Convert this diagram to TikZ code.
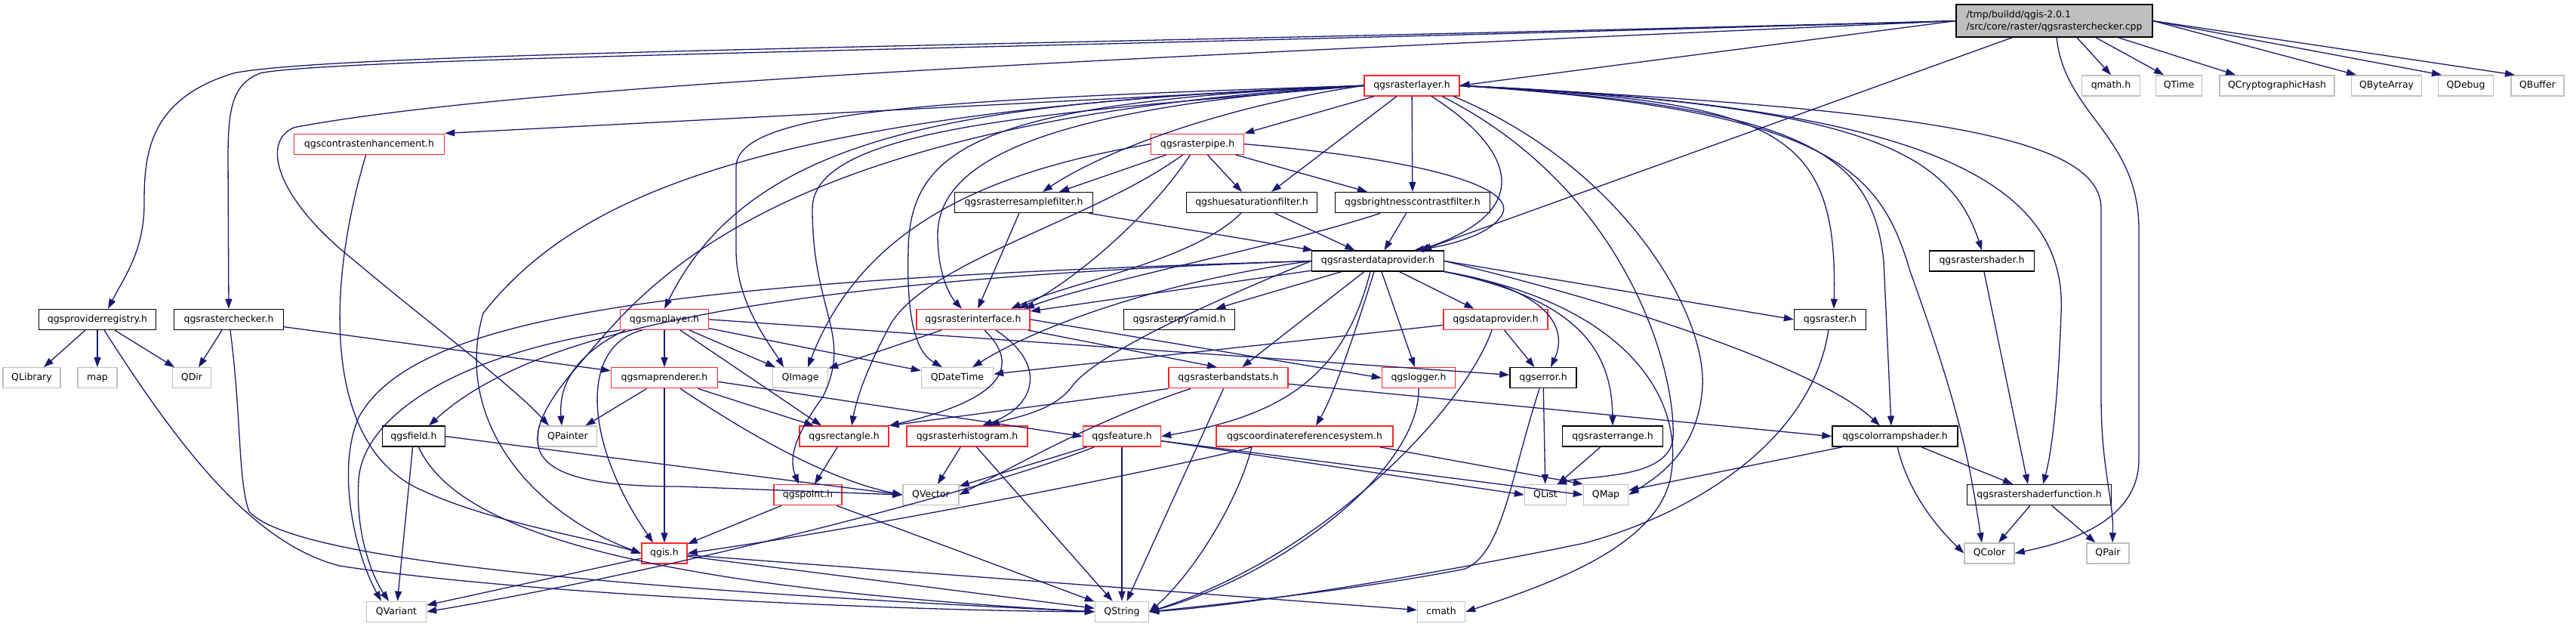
\documentclass[tikz,border=0pt]{standalone}
\usepackage{fontspec}
\setmainfont{DejaVu Sans}
\usepackage{tikz}
\usetikzlibrary{arrows.meta,positioning}
\definecolor{azulgraf}{RGB}{25,25,112}
\definecolor{rojonodo}{RGB}{255,40,40}
\definecolor{grisnodo}{RGB}{191,191,191}
\tikzset{
  cabecera/.style={rectangle, draw=black, line width=1.4pt, fill=white,
                   minimum height=27pt, inner xsep=4pt, inner ysep=0pt,
                   text height=9.5pt, text depth=2.6pt,
                   font=\fontsize{12.5}{15}\selectfont},
  cabroja/.style={cabecera, draw=rojonodo},
  sistema/.style={cabecera, draw=grisnodo},
  raiz/.style={rectangle, draw=black, line width=1.4pt, fill=grisnodo,
               minimum width=260pt, minimum height=43pt, align=left,
               font=\fontsize{12.5}{16}\selectfont},
  flecha/.style={-{Triangle[length=13pt,width=9pt]}, line width=1.3pt, draw=azulgraf}
}

\begin{document}
\begin{tikzpicture}[x=1pt, y=-1.382pt]
  \useasboundingbox (0,0) rectangle (3412,600);
  % fila 0-1
  \node[raiz] (raiz) at (2721,20) {/tmp/buildd/qgis-2.0.1\\/src/core/raster/qgsrasterchecker.cpp};
  \node[cabroja, minimum width=126] (rl) at (1870,82) {qgsrasterlayer.h};
  \node[sistema, minimum width=77] (qmath) at (2796,82) {qmath.h};
  \node[sistema, minimum width=61] (qtime) at (2886,82) {QTime};
  \node[sistema, minimum width=152] (qcrypt) at (3016,82) {QCryptographicHash};
  \node[sistema, minimum width=93] (qbyte) at (3161,82) {QByteArray};
  \node[sistema, minimum width=73] (qdebug) at (3266,82) {QDebug};
  \node[sistema, minimum width=70] (qbuffer) at (3361,82) {QBuffer};
  % fila 2-3
  \node[cabroja, minimum width=199] (contr) at (489,138) {qgscontrastenhancement.h};
  \node[cabroja, minimum width=123] (pipe) at (1586,138) {qgsrasterpipe.h};
  \node[cabecera, minimum width=183] (resample) at (1356,194) {qgsrasterresamplefilter.h};
  \node[cabecera, minimum width=173] (hue) at (1658,194) {qgshuesaturationfilter.h};
  \node[cabecera, minimum width=205] (bright) at (1871,194) {qgsbrightnesscontrastfilter.h};
  % fila 4-5
  \node[cabecera, minimum width=175] (rdp) at (1825,250) {qgsrasterdataprovider.h};
  \node[cabecera, minimum width=139] (shader) at (2625,250) {qgsrastershader.h};
  \node[cabecera, minimum width=155] (prov) at (129,306) {qgsproviderregistry.h};
  \node[cabecera, minimum width=145] (chk) at (303,306) {qgsrasterchecker.h};
  \node[cabroja, minimum width=117] (mapl) at (880,306) {qgsmaplayer.h};
  \node[cabroja, minimum width=150] (rint) at (1289,306) {qgsrasterinterface.h};
  \node[cabecera, minimum width=147] (pyr) at (1562,306) {qgsrasterpyramid.h};
  \node[cabroja, minimum width=138] (dprov) at (1981,306) {qgsdataprovider.h};
  \node[cabecera, minimum width=95] (raster) at (2424,306) {qgsraster.h};
  % fila 6
  \node[sistema, minimum width=76] (qlib) at (42,362) {QLibrary};
  \node[sistema, minimum width=52] (stdmap) at (129,362) {map};
  \node[sistema, minimum width=51] (qdir) at (254,362) {QDir};
  \node[cabroja, minimum width=141] (maprend) at (880,362) {qgsmaprenderer.h};
  \node[sistema, minimum width=73] (qimage) at (1060,362) {QImage};
  \node[sistema, minimum width=95] (qdatetime) at (1268,362) {QDateTime};
  \node[cabroja, minimum width=158] (bstats) at (1627,362) {qgsrasterbandstats.h};
  \node[cabroja, minimum width=97] (logger) at (1879,362) {qgslogger.h};
  \node[cabecera, minimum width=88] (err) at (2044,362) {qgserror.h};
  % fila 7
  \node[cabecera, minimum width=83] (field) at (548,418) {qgsfield.h};
  \node[sistema, minimum width=77] (qpainter) at (752,418) {QPainter};
  \node[cabroja, minimum width=118] (rect) at (1118,418) {qgsrectangle.h};
  \node[cabroja, minimum width=160] (hist) at (1281,418) {qgsrasterhistogram.h};
  \node[cabroja, minimum width=103] (feat) at (1486,418) {qgsfeature.h};
  \node[cabroja, minimum width=234] (crs) at (1728,418) {qgscoordinatereferencesystem.h};
  \node[cabecera, minimum width=133] (range) at (2136,418) {qgsrasterrange.h};
  \node[cabecera, minimum width=166] (ramp) at (2510,418) {qgscolorrampshader.h};
  % fila 8-10
  \node[cabroja, minimum width=90] (point) at (1070,474) {qgspoint.h};
  \node[sistema, minimum width=74] (qvector) at (1233,474) {QVector};
  \node[sistema, minimum width=55] (qlist) at (2047,474) {QList};
  \node[sistema, minimum width=59] (qmap) at (2127,474) {QMap};
  \node[cabecera, minimum width=191] (shfunc) at (2701,474) {qgsrastershaderfunction.h};
  \node[cabroja, minimum width=60] (qgis) at (880,530) {qgis.h};
  \node[sistema, minimum width=66] (qcolor) at (2635,530) {QColor};
  \node[sistema, minimum width=56] (qpair) at (2792,530) {QPair};
  \node[sistema, minimum width=79] (qvariant) at (525,586) {QVariant};
  \node[sistema, minimum width=71] (qstring) at (1486,586) {QString};
  \node[sistema, minimum width=63] (cmath) at (1909,586) {cmath};

  % desde el .cpp
  \draw[flecha] (raiz.west) .. controls (1300,45) and (450,50) .. (310,70) .. controls (195,95) and (191,150) .. (191,195) .. controls (191,240) and (165,265) .. ([xshift=14]prov.north);
  \draw[flecha] (raiz.west) .. controls (1300,48) and (450,55) .. (345,70) .. controls (310,80) and (302,100) .. (302,150) -- (chk.north);
  \draw[flecha] (raiz.west) .. controls (1500,55) and (700,80) .. (390,122) .. controls (345,135) and (365,190) .. (470,250) .. controls (560,305) and (680,370) .. ([xshift=-25]qpainter.north);
  \draw[flecha] (raiz.west) -- (rl.east);
  \draw[flecha] ([xshift=-56]raiz.south) -- ([xshift=58]rdp.north);
  \draw[flecha] ([xshift=30]raiz.south) -- (qmath.north);
  \draw[flecha] ([xshift=55]raiz.south) -- ([xshift=-20]qtime.north);
  \draw[flecha] ([xshift=85]raiz.south) -- ([xshift=-55]qcrypt.north);
  \draw[flecha] (raiz.east) -- ([xshift=-40]qbyte.north);
  \draw[flecha] (raiz.east) -- ([xshift=-32]qdebug.north);
  \draw[flecha] (raiz.east) -- ([xshift=-30]qbuffer.north);
  \draw[flecha] ([xshift=3]raiz.south) .. controls (2735,110) and (2833,130) .. (2833,220) -- (2833,440) .. controls (2833,505) and (2720,522) .. (qcolor.east);

  % qgsrasterlayer.h
  \draw[flecha] (rl.west) -- (contr.north east);
  \draw[flecha] (rl.west) .. controls (1300,98) and (1000,120) .. (mapl.north);
  \draw[flecha] (rl.west) .. controls (1250,95) and (975,105) .. (975,160) -- (975,240) .. controls (975,290) and (1020,330) .. ([xshift=-22]qimage.north);
  \draw[flecha] (rl.west) .. controls (1000,105) and (760,190) .. (640,300) .. controls (600,400) and (700,490) .. (qgis.west);
  \draw[flecha] (rl.west) .. controls (1000,115) and (850,280) .. (760,355) .. controls (660,440) and (720,466) .. (900,466) -- (qvector.west);
  \draw[flecha] (rl.west) .. controls (1400,108) and (1076,120) .. (1076,200) .. controls (1076,300) and (1130,320) .. (1090,380) .. controls (1050,420) and (1045,440) .. ([xshift=-12]point.north);
  \draw[flecha] (rl.west) .. controls (1300,98) and (1205,140) .. (1203,240) .. controls (1200,320) and (1220,340) .. ([xshift=-20]qdatetime.north);
  \draw[flecha] (rl.west) .. controls (1400,103) and (1242,150) .. (1242,225) .. controls (1242,265) and (1260,285) .. ([xshift=-15]rint.north);
  \draw[flecha] (rl.west) .. controls (1600,104) and (1450,150) .. ([xshift=25]resample.north);
  \draw[flecha] (rl) -- (pipe.north east);
  \draw[flecha] ([xshift=-20]rl.south) -- ([xshift=26]hue.north);
  \draw[flecha] (rl) -- (bright);
  \draw[flecha] ([xshift=26]rl.south) .. controls (2000,140) and (2040,200) .. ([xshift=55]rdp.north);
  \draw[flecha] ([xshift=40]rl.south) .. controls (2150,180) and (2220,350) .. (2216,420) .. controls (2210,460) and (2100,455) .. ([xshift=15]qlist.north);
  \draw[flecha] ([xshift=55]rl.south) .. controls (2150,160) and (2260,300) .. (2255,370) .. controls (2250,430) and (2200,455) .. (qmap.east);
  \draw[flecha] (rl.east) .. controls (2350,98) and (2435,120) .. ([xshift=5]raster.north);
  \draw[flecha] (rl.east) .. controls (2400,102) and (2480,150) .. (2495,250) -- ([xshift=-5]ramp.north);
  \draw[flecha] (rl.east) .. controls (2420,105) and (2490,160) .. (2530,260) .. controls (2600,400) and (2610,450) .. ([xshift=-10]qcolor.north);
  \draw[flecha] (rl.east) .. controls (2450,100) and (2580,140) .. (shader.north);
  \draw[flecha] (rl.east) .. controls (2500,100) and (2740,160) .. (2730,300) .. controls (2725,400) and (2715,440) .. ([xshift=5]shfunc.north);
  \draw[flecha] (rl.east) .. controls (2550,105) and (2783,130) .. (2783,200) -- (2783,380) .. controls (2783,450) and (2800,480) .. ([xshift=6]qpair.north);

  % qgsrasterpipe.h y filtros
  \draw[flecha] (pipe) -- ([xshift=47]resample.north);
  \draw[flecha] (pipe) -- (hue);
  \draw[flecha] (pipe) -- ([xshift=-60]bright.north);
  \draw[flecha] (pipe.east) .. controls (1850,150) and (2010,175) .. (1990,205) .. controls (1975,225) and (1920,235) .. ([xshift=48]rdp.north);
  \draw[flecha] (pipe) .. controls (1520,210) and (1420,270) .. ([xshift=60]rint.north);
  \draw[flecha] (pipe) .. controls (1450,210) and (1230,250) .. (1180,310) .. controls (1150,350) and (1135,380) .. ([xshift=10]rect.north);
  \draw[flecha] (pipe.west) .. controls (1300,165) and (1140,220) .. ([xshift=10]qimage.north);
  \draw[flecha] (resample) -- (rint);
  \draw[flecha] (resample) -- (rdp);
  \draw[flecha] (hue) .. controls (1580,250) and (1420,270) .. ([xshift=50]rint.north);
  \draw[flecha] (hue) -- (rdp);
  \draw[flecha] (bright) -- (rdp);
  \draw[flecha] (bright) .. controls (1700,235) and (1450,270) .. ([xshift=68]rint.north);

  % qgsrasterdataprovider.h
  \draw[flecha] (rdp) -- (rint);
  \draw[flecha] (rdp) -- (pyr);
  \draw[flecha] (rdp.west) .. controls (1550,268) and (1380,310) .. ([xshift=20]qdatetime.north);
  \draw[flecha] (rdp) -- (bstats);
  \draw[flecha] (rdp.west) .. controls (1600,290) and (1450,340) .. (1420,370) .. controls (1395,395) and (1340,400) .. ([xshift=30]hist.north);
  \draw[flecha] ([xshift=-10]rdp.south) .. controls (1780,360) and (1700,398) .. (feat.east);
  \draw[flecha] ([xshift=-5]rdp.south) .. controls (1790,330) and (1765,380) .. ([xshift=15]crs.north);
  \draw[flecha] (rdp.west) .. controls (1000,268) and (700,320) .. ([xshift=20]field.north);
  \draw[flecha] (rdp.west) .. controls (900,268) and (550,300) .. (475,400) .. controls (445,450) and (470,530) .. ([xshift=-20]qvariant.north);
  \draw[flecha] (rdp) -- (dprov);
  \draw[flecha] (rdp) -- (logger);
  \draw[flecha] (rdp.south east) .. controls (2040,275) and (2080,310) .. ([xshift=10]err.north);
  \draw[flecha] (rdp.south east) .. controls (2080,285) and (2135,330) .. (range.north);
  \draw[flecha] (rdp.east) -- (raster.west);
  \draw[flecha] (rdp.east) .. controls (2200,300) and (2420,360) .. ([xshift=-20]ramp.north);
  \draw[flecha] (rdp.south east) .. controls (2150,290) and (2235,380) .. (2212,460) .. controls (2190,525) and (2050,560) .. (cmath.east);

  % qgsmaplayer.h y qgsmaprenderer.h
  \draw[flecha] (mapl) -- (maprend);
  \draw[flecha] (mapl) -- (qimage);
  \draw[flecha] ([xshift=-52]mapl.south) .. controls (760,340) and (740,370) .. ([xshift=-8]qpainter.north);
  \draw[flecha] ([xshift=-29]mapl.south) .. controls (770,330) and (770,420) .. ([xshift=-15]qgis.north);
  \draw[flecha] (mapl) -- ([xshift=-30]rect.north);
  \draw[flecha] (mapl) -- (qdatetime);
  \draw[flecha] (mapl.east) -- ([yshift=4]err.west);
  \draw[flecha] (mapl.south west) .. controls (600,340) and (480,400) .. (475,460) .. controls (470,520) and (500,560) .. ([xshift=-10]qvariant.north);
  \draw[flecha] (maprend) -- (qpainter);
  \draw[flecha] (maprend) -- (qgis);
  \draw[flecha] (maprend) -- ([xshift=-40]rect.north);
  \draw[flecha] (maprend) .. controls (1000,420) and (1100,460) .. (qvector.west);
  \draw[flecha] ([yshift=-5]maprend.east) -- (feat.west);

  % qgsrasterinterface.h y demas
  \draw[flecha] (rint) -- (qimage);
  \draw[flecha] (rint) -- ([xshift=-15]bstats.north);
  \draw[flecha] ([xshift=30]rint.south) .. controls (1390,350) and (1370,390) .. ([xshift=20]hist.north);
  \draw[flecha] ([xshift=15]rint.south) .. controls (1345,345) and (1345,380) .. (rect.north east);
  \draw[flecha] (rint.east) -- (logger.west);
  \draw[flecha] (bstats.south west) -- (rect.north east);
  \draw[flecha] ([xshift=-50]bstats.south) .. controls (1460,400) and (1360,440) .. (qvector.east);
  \draw[flecha] (bstats) -- (qstring);
  \draw[flecha] ([yshift=-8]bstats.east) -- (ramp.west);
  \draw[flecha] (hist) -- (qvector);
  \draw[flecha] (hist) -- (qstring);
  \draw[flecha] (feat) -- (qvector);
  \draw[flecha] (feat) -- (qstring);
  \draw[flecha] (feat) .. controls (1300,470) and (900,545) .. (qvariant.east);
  \draw[flecha] ([yshift=-6]feat.east) -- (qlist.west);
  \draw[flecha] ([yshift=-6]feat.east) -- (qmap.west);
  \draw[flecha] ([xshift=-70]crs.south) .. controls (1640,480) and (1580,550) .. (qstring.east);
  \draw[flecha] ([xshift=-70]crs.south) .. controls (1600,440) and (1200,500) .. (qgis.east);
  \draw[flecha] ([xshift=100]crs.south) -- (qmap.north west);
  \draw[flecha] (point) -- (qgis);
  \draw[flecha] (point) -- (qstring);
  \draw[flecha] (rect) -- (point);
  \draw[flecha] (qgis) -- (qvariant);
  \draw[flecha] (qgis) -- (qstring);
  \draw[flecha] (qgis) -- (cmath);
  \draw[flecha] (field) -- (qvariant);
  \draw[flecha] (field) .. controls (600,500) and (800,560) .. (qstring.west);
  \draw[flecha] (field.east) -- (qvector.west);
  \draw[flecha] (dprov) -- (err);
  \draw[flecha] (dprov) .. controls (1940,390) and (1760,530) .. (qstring.east);
  \draw[flecha] (dprov) -- (qdatetime);
  \draw[flecha] (logger) .. controls (1880,450) and (1700,550) .. (qstring.east);
  \draw[flecha] ([xshift=-5]err.south) .. controls (2000,460) and (1990,530) .. (1940,545) .. controls (1800,565) and (1600,580) .. (qstring.east);
  \draw[flecha] (err) -- (qlist);
  \draw[flecha] (range) -- (qlist);
  \draw[flecha] (raster) .. controls (2400,420) and (2250,490) .. (2100,520) .. controls (1900,550) and (1650,580) .. (qstring.east);
  \draw[flecha] (ramp) .. controls (2530,480) and (2580,515) .. (qcolor.west);
  \draw[flecha] (ramp) -- (shfunc);
  \draw[flecha] (ramp) -- (qmap);
  \draw[flecha] (shader) -- ([xshift=-15]shfunc.north);
  \draw[flecha] (shfunc) -- (qcolor);
  \draw[flecha] (shfunc) -- (qpair);

  % qgsrasterchecker.h, qgsproviderregistry.h, qgscontrastenhancement.h
  \draw[flecha] (chk) -- (qdir);
  \draw[flecha] ([xshift=2]chk.south) .. controls (320,400) and (315,460) .. (330,490) .. controls (380,530) and (700,560) .. (qstring.west);
  \draw[flecha] (chk) -- (maprend);
  \draw[flecha] (prov) -- (qlib);
  \draw[flecha] (prov) -- (stdmap);
  \draw[flecha] (prov) -- (qdir);
  \draw[flecha] ([xshift=9]prov.south) .. controls (230,420) and (330,520) .. (450,542) .. controls (700,570) and (1200,585) .. (qstring.west);
  \draw[flecha] (contr) .. controls (430,280) and (430,430) .. (560,470) .. controls (650,500) and (780,515) .. (qgis.west);
\end{tikzpicture}
\end{document}
